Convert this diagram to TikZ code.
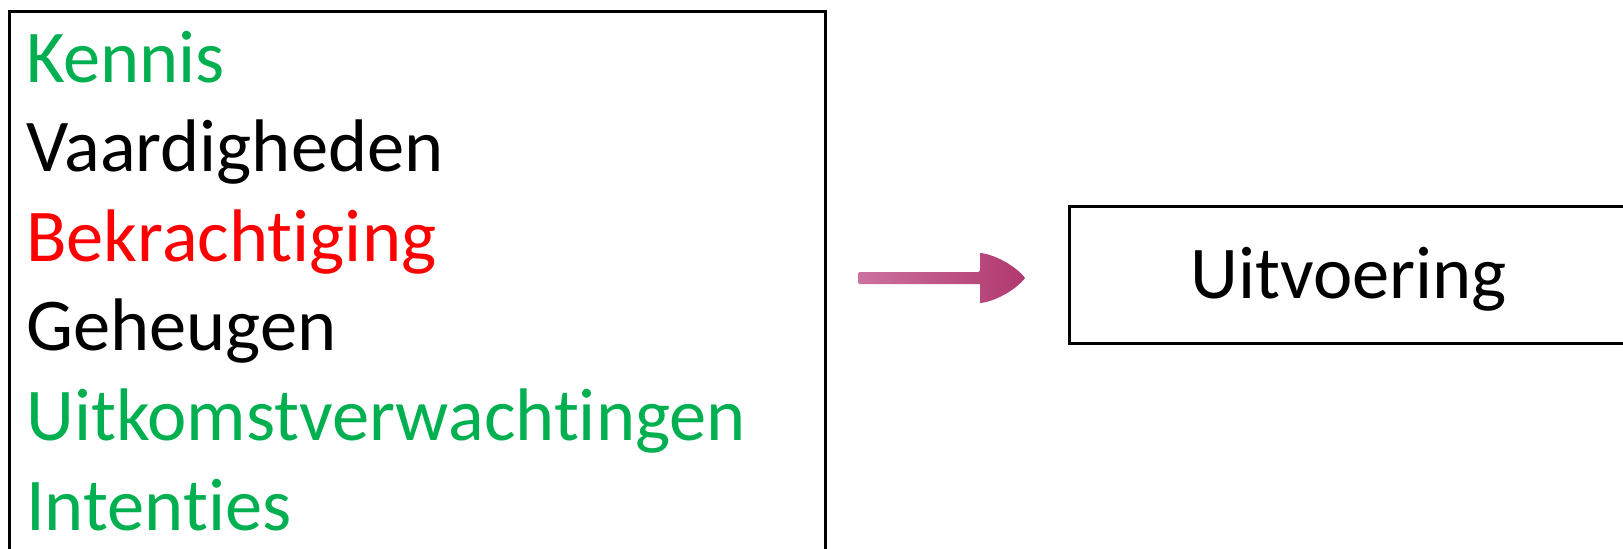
\documentclass[tikz,border=0pt]{standalone}
\usepackage{fontspec}
\setmainfont{Carlito}[RawFeature=-liga]
\usetikzlibrary{positioning}
\definecolor{groen}{HTML}{00B050}
\definecolor{rood}{HTML}{FF0000}
\definecolor{pijllicht}{HTML}{CC72A0}
\definecolor{pijldonker}{HTML}{B0386E}
\tikzset{
	kader/.style={draw, line width=3.4pt, inner sep=0pt},
	regel/.style={anchor=base west, inner sep=0pt},
}
\begin{document}
\begin{tikzpicture}[x=1pt, y=-1pt, font=\fontsize{74.5}{90}\selectfont, line join=miter]
	\def\dy{89.6} % regelafstand
	\useasboundingbox (0,0) rectangle (1623,549);
	\clip (0,0) rectangle (1623,549);
	% linker kader, onderkant valt buiten beeld
	\node[kader, anchor=north west, minimum width=816, minimum height=700] (factoren) at (8,10) {};
	\foreach \t/\k/\c [count=\i from 0] in {Kennis/kennis/groen, Vaardigheden/vaardigheden/black, Bekrachtiging/bekrachtiging/rood, Geheugen/geheugen/black, Uitkomstverwachtingen/verwachtingen/groen, Intenties/intenties/groen}
		\node[regel, text=\c] (\k) at (26,82+\i*\dy) {\t};
	% rechter kader
	\node[kader, anchor=north west, minimum width=560, minimum height=137] (uitvoerkader) at (1068,205) {};
	\node[regel] (uitvoering) at (1190,298) {Uitvoering};
	% pijl
	\coordinate (pijlA) at (858,278);
	\coordinate (pijlB) at (1025,278);
	\begin{scope}[shift={(pijlA)}]
		\shade[left color=pijllicht, right color=pijldonker, rounded corners=2pt]
			(0,-6) -- (122,-6) [sharp corners] -- (122,-25) .. controls (136,-24) and (158,-12) .. (167,0)
			.. controls (158,12) and (136,24) .. (122,25) -- (122,6) [rounded corners=2pt] -- (0,6) -- cycle;
	\end{scope}
\end{tikzpicture}
\end{document}
